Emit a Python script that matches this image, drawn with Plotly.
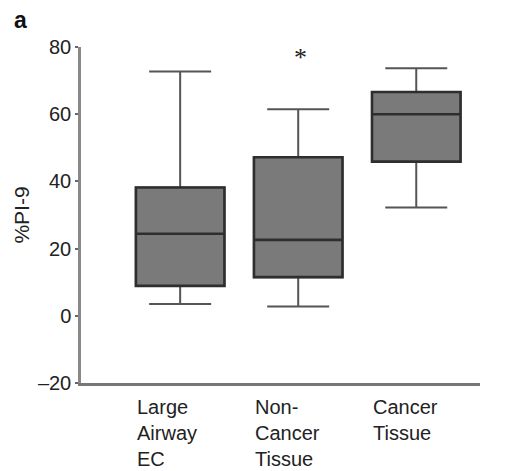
import plotly.graph_objects as go

categories = ["Large<br>Airway<br>EC", "Non-<br>Cancer<br>Tissue", "Cancer<br>Tissue"]
lower_whisker = [3.5, 2.8, 32.2]
q1_vals = [8.9, 11.5, 45.9]
median_vals = [24.4, 22.6, 60.0]
q3_vals = [38.2, 47.2, 66.6]
upper_whisker = [72.7, 61.5, 73.7]
y_ticks = [-20, 0, 20, 40, 60, 80]
y_tick_text = ["\u201320", "0", "20", "40", "60", "80"]
star_category = 1.02
star_value = 77.0

xpos = list(range(len(categories)))

fig = go.Figure()
# whiskers (gray, thinner)
fig.add_trace(go.Box(
    x=xpos,
    q1=q1_vals, median=median_vals, q3=q3_vals,
    lowerfence=lower_whisker, upperfence=upper_whisker,
    fillcolor="#7a7a7a",
    line=dict(color="#555555", width=2),
    width=0.75,
    whiskerwidth=0.7,
    boxpoints=False,
    hoverinfo="skip",
    showlegend=False,
))
# box outline (dark, thicker) drawn on top without whiskers
fig.add_trace(go.Box(
    x=xpos,
    q1=q1_vals, median=median_vals, q3=q3_vals,
    lowerfence=q1_vals, upperfence=q3_vals,
    fillcolor="#7a7a7a",
    line=dict(color="#2e2e2e", width=2.6),
    width=0.75,
    whiskerwidth=0,
    boxpoints=False,
    hoverinfo="skip",
    showlegend=False,
))

font_fam = "Liberation Sans, Arial, sans-serif"

for i, lab in enumerate(categories):
    fig.add_annotation(x=xpos[i] - 0.38, xref="x", y=-0.033, yref="paper",
                       text=lab, showarrow=False, xanchor="left", yanchor="top",
                       align="left", font=dict(family=font_fam, size=20, color="#222"))

fig.add_annotation(x=star_category, y=star_value, xref="x", yref="y", text="*",
                   showarrow=False, font=dict(family="Liberation Serif, Times New Roman, serif", size=26, color="#222"))

fig.add_annotation(x=-0.172, y=1.125, xref="paper", yref="paper", text="<b>a</b>", showarrow=False,
                   xanchor="left", yanchor="top", font=dict(family=font_fam, size=23, color="#111"))

fig.update_layout(
    width=512, height=471,
    margin=dict(l=81, r=32, t=47, b=88),
    plot_bgcolor="white", paper_bgcolor="white",
    font=dict(family=font_fam, size=20, color="#222"),
    boxmode="overlay",
)

fig.update_xaxes(range=[-0.84, 2.54], showticklabels=False, showgrid=False, zeroline=False,
                 showline=True, linecolor="#777", linewidth=2.5, ticks="")
fig.update_yaxes(range=[-20, 80], tickvals=y_ticks, ticktext=y_tick_text,
                 showgrid=False, zeroline=False, showline=True, linecolor="#888", linewidth=2.5,
                 ticks="outside", ticklen=3, tickwidth=2, tickcolor="#666",
                 tickfont=dict(size=20),
                 title=dict(text="%PI-9", standoff=3, font=dict(size=21)))

fig.write_html("out.html")
